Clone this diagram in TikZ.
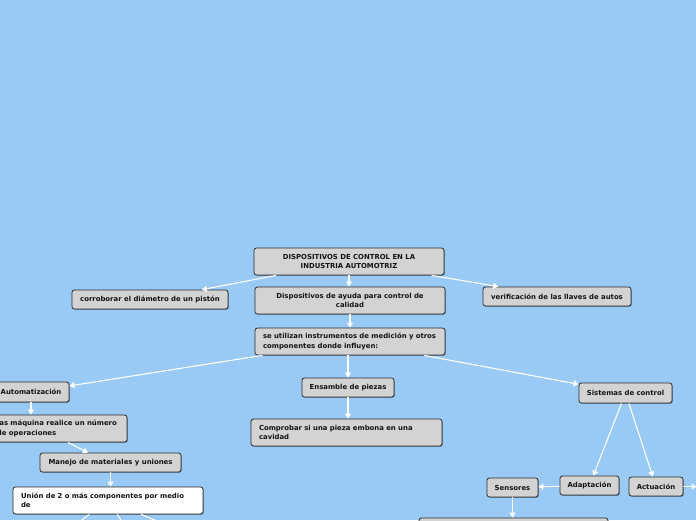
\documentclass[tikz,border=0pt]{standalone}
\usepackage{fontspec}
\setmainfont{DejaVu Sans}
\usetikzlibrary{arrows.meta,shadows}
\definecolor{bg}{RGB}{153,201,245}
\definecolor{nodefill}{RGB}{211,211,211}
\definecolor{nodeline}{RGB}{45,45,45}
\definecolor{txt}{RGB}{20,20,20}
\begin{document}
\begin{tikzpicture}[x=1pt,y=-1pt,
  box/.style={draw=nodeline, fill=nodefill, rounded corners=2.5pt, line width=0.8pt,
    text=txt, font=\fontsize{6.9}{9.2}\selectfont\bfseries, inner xsep=4pt, inner ysep=2pt,
    drop shadow={shadow xshift=0.8pt,shadow yshift=-0.8pt,opacity=0.35,fill=black}},
  cbox/.style={box, align=center},
  lbox/.style={box, align=left, inner xsep=8pt, text width=#1},
  conn/.style={draw=white, line width=1.1pt, -{Triangle[width=6pt,length=5pt]}},
  plain/.style={draw=white, line width=1.1pt}]
\fill[bg] (0,0) rectangle (696,520);
\useasboundingbox (0,0) rectangle (696,520);
\clip (0,0) rectangle (696,520);

\node[cbox, minimum width=190, minimum height=27] (root) at (349,261.5)
  {DISPOSITIVOS DE CONTROL EN LA\\INDUSTRIA AUTOMOTRIZ};
\node[cbox, minimum width=156, minimum height=19] (corr) at (150,299.5)
  {corroborar el diámetro de un pistón};
\node[cbox, minimum width=190, minimum height=27] (disp) at (350,300.5)
  {Dispositivos de ayuda para control de\\calidad};
\node[cbox, minimum width=148, minimum height=19] (verif) at (557,296.5)
  {verificación de las llaves de autos};
\node[lbox=174, minimum height=27] (util) at (350,341.5)
  {se utilizan instrumentos de medición y otros\\componentes donde influyen:};
\node[cbox, minimum width=76, minimum height=20] (auto) at (31,392)
  {Automatización};
\node[lbox=122, minimum height=27] (maq) at (58,428.5)
  {las máquina realice un número\\de operaciones};
\node[cbox, minimum width=141, minimum height=19] (manejo) at (110.5,462.5)
  {Manejo de materiales y uniones};
\node[lbox=174, minimum height=27, fill=white] (union) at (108,500.5)
  {Unión de 2 o más componentes por medio\\de};
\node[cbox, minimum width=92, minimum height=19] (ens) at (348,387.5)
  {Ensamble de piezas};
\node[lbox=175, minimum height=27] (compr) at (346.5,432.5)
  {Comprobar si una pieza embona en una\\cavidad};
\node[cbox, minimum width=93, minimum height=20] (sist) at (625.5,393)
  {Sistemas de control};
\node[cbox, minimum width=59, minimum height=19] (adapt) at (589.5,485.5)
  {Adaptación};
\node[cbox, minimum width=54, minimum height=19] (actu) at (656,486.5)
  {Actuación};
\node[cbox, minimum width=51, minimum height=19] (sens) at (512.5,487.5)
  {Sensores};
\node[cbox, minimum width=189, minimum height=27] (below) at (513.5,531.5) {};
\node[cbox, minimum width=86, minimum height=19] (rc) at (740,486.5) {};
\coordinate (u1) at (55,540);
\coordinate (u2) at (134,540);
\coordinate (u3) at (202,540);

\draw[conn] (root) -- (corr);
\draw[conn] (root.south) -- (root.south |- disp.north);
\draw[conn] (root) -- (verif);
\draw[conn] (disp) -- (util);
\draw[conn] (util) -- (auto);
\draw[conn] (util.south -| ens) -- (ens.north);
\draw[conn] (util) -- (sist);
\draw[conn] (auto.south) -- (auto.south |- maq.north);
\draw[conn] ([xshift=10pt]maq.south) -- ([xshift=-22.5pt]manejo.north);
\draw[conn] (manejo.south) -- (manejo.south |- union.north);
\draw[conn] (ens.south) -- (ens.south |- compr.north);
\draw[conn] (sist) -- (adapt);
\draw[conn] (sist) -- (actu);
\draw[conn] (adapt) -- (sens);
\draw[conn] (sens) -- (sens |- below.north);
\draw[conn] (actu) -- (rc);
\draw[plain] (union) -- (u1);
\draw[plain] (union) -- (u2);
\draw[plain] (union) -- (u3);
\end{tikzpicture}
\end{document}
